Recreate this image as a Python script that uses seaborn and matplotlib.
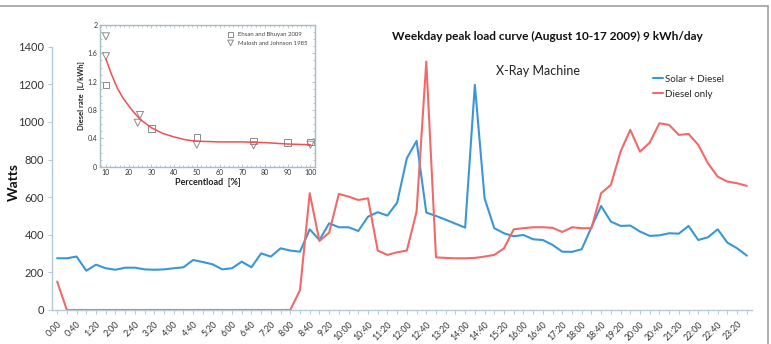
import matplotlib
matplotlib.use("Agg")
import matplotlib.pyplot as plt
import seaborn as sns
import pandas as pd
from matplotlib.lines import Line2D

# ---------------- data ----------------
times = [f"{m // 60}:{m % 60:02d}" for m in range(0, 24 * 60, 20)]

solar_diesel = [275, 275, 284, 209, 241, 222, 214, 225, 225, 216, 214, 216,
                222, 227, 266, 255, 243, 216, 222, 257, 227, 301, 284, 328,
                316, 310, 429, 372, 461, 440, 440, 420, 496, 520, 502, 571,
                807, 899, 518, 500, 480, 459, 438, 1197, 594, 435, 408, 392,
                399, 376, 372, 346, 310, 309, 323, 440, 553, 470, 447, 449,
                417, 394, 397, 408, 406, 447, 372, 387, 429, 358, 328, 289]

diesel_only = [151, 0, 0, 0, 0, 0, 0, 0, 0, 0, 0, 0,
               0, 0, 0, 0, 0, 0, 0, 0, 0, 0, 0, 0,
               0, 106, 621, 367, 411, 617, 603, 585, 594, 316, 293, 307,
               316, 523, 1321, 280, 277, 275, 275, 277, 284, 293, 328, 429,
               435, 440, 440, 437, 415, 440, 435, 435, 621, 665, 842, 958,
               842, 890, 993, 984, 931, 936, 878, 780, 709, 683, 674, 660]

series_names = ["Solar + Diesel", "Diesel only"]
y_ticks = [0, 200, 400, 600, 800, 1000, 1200, 1400]

# inset data
ehsan_load = [10, 30, 50, 75, 90, 100]
ehsan_rate = [1.15, 0.54, 0.41, 0.36, 0.34, 0.35]
malosh_load = [10, 10, 24, 25, 50, 75, 100]
malosh_rate = [1.84, 1.56, 0.62, 0.73, 0.31, 0.30, 0.31]
fit_load = [10, 12.5, 15, 17.5, 20, 22.5, 25, 30, 35, 40, 45, 50, 60, 70, 80, 90, 100]
fit_rate = [1.52, 1.30, 1.11, 0.97, 0.86, 0.76, 0.67, 0.55, 0.47, 0.42, 0.38,
            0.36, 0.35, 0.35, 0.34, 0.32, 0.31]
inset_xticks = [10, 20, 30, 40, 50, 60, 70, 80, 90, 100]
inset_yticks = [0, 0.4, 0.8, 1.2, 1.6, 2]
inset_ytick_labels = ["0", "0.4", "0.8", "1.2", "1.6", "2"]

# ---------------- style ----------------
sns.set_theme(style="white")
plt.rcParams["font.family"] = ["Lato", "DejaVu Sans"]

BLUE = "#3a97d4"
RED = "#f06a6a"
SPINE = "#b4cad8"
TXT = "#333333"

fig = plt.figure(figsize=(7.71, 3.44), dpi=100)
fig.patch.set_facecolor("white")

ax = fig.add_axes([52.3 / 771, 1 - 310 / 344, (751.7 - 52.3) / 771, (310 - 46.7) / 344])

df = pd.DataFrame({
    "idx": list(range(len(times))) * 2,
    "watts": solar_diesel + diesel_only,
    "series": [series_names[0]] * len(times) + [series_names[1]] * len(times),
})
sns.lineplot(data=df, x="idx", y="watts", hue="series", palette=[BLUE, RED],
             linewidth=1.5, ax=ax, legend=False)

ax.set_xlim(-0.5, len(times) - 0.5)
ax.set_ylim(0, 1400)
ax.set_yticks(y_ticks)
ax.set_yticklabels([str(v) for v in y_ticks], fontsize=8, color=TXT)
ax.set_xticks(range(len(times)))
ax.set_xticklabels([t if i % 2 == 0 else "" for i, t in enumerate(times)],
                   rotation=45, ha="right", rotation_mode="anchor",
                   fontsize=6.3, color=TXT)
ax.tick_params(axis="x", length=3, width=0.7, color=SPINE, pad=4, direction="out",
               bottom=True)
ax.tick_params(axis="y", length=3, width=0.7, color=SPINE, pad=3, direction="out",
               left=True)
for s in ["top", "right"]:
    ax.spines[s].set_visible(False)
for s in ["left", "bottom"]:
    ax.spines[s].set_color(SPINE)
    ax.spines[s].set_linewidth(1.0)
ax.set_xlabel("")
ax.set_ylabel("")
fig.text(14 / 771, 1 - 182 / 344, "Watts", rotation=90, ha="center", va="center",
         fontsize=10, fontweight="bold", color="#111111")

fig.text(547 / 771, 1 - 36 / 344, "Weekday peak load curve (August 10-17 2009) 9 kWh/day",
         ha="center", va="center", fontsize=8.6, fontweight="bold", color="#111111")
fig.text(496 / 771, 1 - 71 / 344, "X-Ray Machine", ha="left", va="center",
         fontsize=9, color="#222222")

handles = [Line2D([0], [0], color=BLUE, lw=1.5), Line2D([0], [0], color=RED, lw=1.5)]
fig.legend(handles, series_names, loc="upper left",
           bbox_to_anchor=(648 / 771, 1 - 70 / 344), frameon=False,
           fontsize=7, handlelength=1.0, handletextpad=0.2, labelspacing=0.6,
           borderpad=0)

# ---------------- inset ----------------
ia = fig.add_axes([100 / 771, 1 - 166.7 / 344, 215 / 771, (166.7 - 25) / 344])
ia.set_facecolor("white")
sns.lineplot(x=fit_load, y=fit_rate, color="#f05050", linewidth=1.1, ax=ia)
sns.scatterplot(x=ehsan_load, y=ehsan_rate, marker="s", s=22, facecolors="none",
                edgecolors="#8c8c8c", linewidth=0.7, ax=ia,
                label="Ehsan and Bhuyan 2009")
sns.scatterplot(x=malosh_load, y=malosh_rate, marker="v", s=26, facecolors="none",
                edgecolors="#8c8c8c", linewidth=0.7, ax=ia,
                label="Malosh and Johnson 1985")
ia.set_xlim(7.4, 102)
ia.set_ylim(0, 2)
ia.set_xticks(inset_xticks)
ia.set_yticks(inset_yticks)
ia.set_xticklabels([str(v) for v in inset_xticks], fontsize=5, color=TXT)
ia.set_yticklabels(inset_ytick_labels, fontsize=5, color=TXT)
ia.minorticks_on()
ia.tick_params(which="both", direction="in", top=True, right=True, bottom=True,
               left=True, color="#9ab0b8", width=0.5)
ia.tick_params(which="major", length=2.5, pad=2)
ia.tick_params(which="minor", length=1.5)
for s in ia.spines.values():
    s.set_color("#a9bcc4")
    s.set_linewidth(1.0)
ia.set_xlabel("Percentload  [%]", fontsize=6.5, fontweight="bold",
              color="#222222", labelpad=1)
ia.set_ylabel("Diesel rate  [L/kWh]", fontsize=5.5, fontweight="bold",
              color="#222222", labelpad=2)
ia.legend(loc="upper right", frameon=False, fontsize=4.3, handletextpad=0.3,
          labelspacing=0.5, borderaxespad=0.8, markerscale=0.8,
          labelcolor="#444444")

# figure frame (top and right)
fig.add_artist(Line2D([0, 768 / 771], [1 - 6 / 344, 1 - 6 / 344],
                      color="#a0a0a0", lw=1.2, transform=fig.transFigure))
fig.add_artist(Line2D([768 / 771, 768 / 771], [0, 1 - 6 / 344],
                      color="#a0a0a0", lw=1.2, transform=fig.transFigure))

fig.savefig("out.png", dpi=100)
